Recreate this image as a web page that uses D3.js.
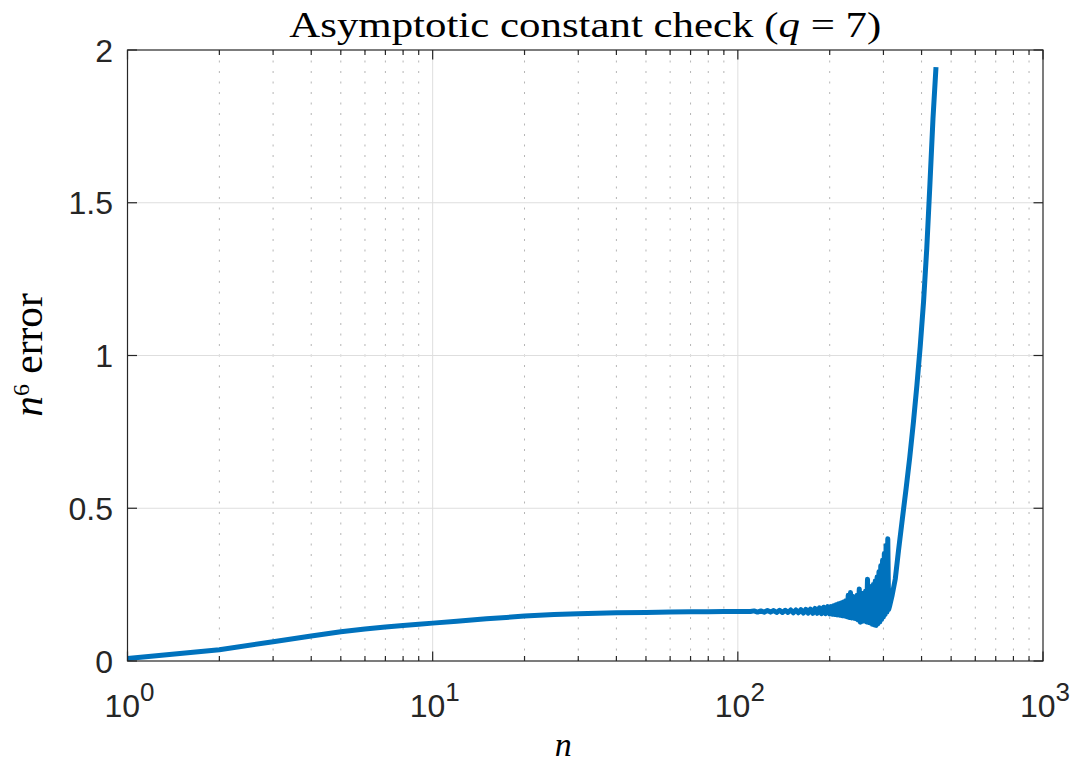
<!DOCTYPE html>
<html><head><meta charset="utf-8">
<script src="https://cdn.jsdelivr.net/npm/d3@7"></script>
<style>body{margin:0;background:#fff} svg{display:block}</style>
</head><body>
<svg id="c" width="1075" height="767"></svg>
<script>
// ---- data ----
const nValues = [
  1,2,3,4,5,6,7,8,9,10,12,15,20,25,30,40,50,60,70,80,90,100,110,
  113,116,119,122,125,128,131,134,137,140,143,146,149,152,155,158,161,164,167,170,
  173,176,179,182,185,188,191,194,197,
  200,202,204,206,208,210,212,214,216,218,220,222,224,226,228,230,
  232,234,236,238,240,242,244,246,248,250,252,254,256,258,260,262,264,266,268,270,
  272,274,276,278,280,282,284,286,288,290,292,294,296,298,300,302,304,306,308,310,312,314,
  320,328,336,346,356,366,376,386,396,406,416,426,436,446,454
];
const errValues = [
  0.008,0.037,0.063,0.082,0.096,0.105,0.111,0.116,0.120,0.124,0.130,0.138,0.147,0.152,0.155,0.158,0.159,0.160,0.161,0.161,0.162,0.162,0.162,
  0.164,0.160,0.164,0.160,0.165,0.160,0.165,0.159,0.166,0.159,0.166,0.159,0.167,0.158,0.167,0.158,0.168,0.157,0.169,0.157,
  0.170,0.156,0.172,0.156,0.174,0.155,0.176,0.155,0.178,
  0.154,0.178,0.153,0.181,0.152,0.184,0.151,0.187,0.150,0.190,0.148,0.193,0.147,0.197,0.145,
  0.215,0.142,0.224,0.141,0.212,0.140,0.208,0.138,0.215,0.134,0.236,0.127,0.220,0.130,0.222,0.132,0.228,0.128,0.268,0.126,
  0.245,0.124,0.240,0.120,0.250,0.118,0.262,0.116,0.275,0.122,0.292,0.128,0.312,0.136,0.330,0.144,0.352,0.152,0.378,0.160,0.400,0.168,
  0.178,0.213,0.268,0.360,0.465,0.565,0.668,0.780,0.900,1.030,1.175,1.350,1.560,1.775,1.944
];
const xTickValues = [1, 10, 100, 1000];
const xTickBase = "10";
const xTickExponents = ["0", "1", "2", "3"];
const yTickValues = [0, 0.5, 1, 1.5, 2];
const yTickLabels = ["0", "0.5", "1", "1.5", "2"];
const titleParts = ["Asymptotic constant check (", "q", " = 7)"];
const xLabelText = "n";
const yLabelParts = ["n", "6", " error"];

// ---- layout ----
const L = 127.5, R = 1043, T = 50, B = 661;
const ink = "#262626";
const svg = d3.select("#c");
const x = d3.scaleLog().domain([1, 1000]).range([L, R]);
const y = d3.scaleLinear().domain([0, 2]).range([B, T]);

const minorX = [];
[1, 10, 100].forEach(d => { for (let k = 2; k <= 9; k++) minorX.push(d * k); });

// grid
const g = svg.append("g");
g.selectAll(".mg").data(minorX).enter().append("line")
  .attr("x1", d => x(d)).attr("x2", d => x(d)).attr("y1", B).attr("y2", T)
  .attr("stroke", "#b5b5b5").attr("stroke-width", 1).attr("stroke-dasharray", "2,8.5");
g.selectAll(".xg").data(xTickValues.slice(1, -1)).enter().append("line")
  .attr("x1", d => x(d)).attr("x2", d => x(d)).attr("y1", B).attr("y2", T)
  .attr("stroke", "#dedede").attr("stroke-width", 1);
g.selectAll(".yg").data(yTickValues.slice(1, -1)).enter().append("line")
  .attr("x1", L).attr("x2", R).attr("y1", d => y(d)).attr("y2", d => y(d))
  .attr("stroke", "#dedede").attr("stroke-width", 1);

// data line
const pts = nValues.map((n, i) => [n, errValues[i]]);
svg.append("path").datum(pts)
  .attr("d", d3.line().x(d => x(d[0])).y(d => y(d[1])))
  .attr("fill", "none").attr("stroke", "#0072BD").attr("stroke-width", 5)
  .attr("stroke-linejoin", "round").attr("stroke-linecap", "butt");

// axes box and ticks
const ax = svg.append("g").attr("stroke", ink).attr("stroke-width", 1.2);
ax.append("rect").attr("x", L).attr("y", T).attr("width", R - L).attr("height", B - T).attr("fill", "none");
xTickValues.forEach(v => {
  ax.append("line").attr("x1", x(v)).attr("x2", x(v)).attr("y1", B).attr("y2", B - 9.5);
  ax.append("line").attr("x1", x(v)).attr("x2", x(v)).attr("y1", T).attr("y2", T + 9.5);
});
minorX.forEach(v => {
  ax.append("line").attr("x1", x(v)).attr("x2", x(v)).attr("y1", B).attr("y2", B - 5);
  ax.append("line").attr("x1", x(v)).attr("x2", x(v)).attr("y1", T).attr("y2", T + 5);
});
yTickValues.forEach(v => {
  ax.append("line").attr("x1", L).attr("x2", L + 9.5).attr("y1", y(v)).attr("y2", y(v));
  ax.append("line").attr("x1", R).attr("x2", R - 9.5).attr("y1", y(v)).attr("y2", y(v));
});

// tick labels
const sans = "'Liberation Sans', Arial, Helvetica, sans-serif";
yTickValues.forEach((v, i) => {
  svg.append("text").attr("x", 113).attr("y", y(v)).attr("dy", "0.36em")
    .attr("text-anchor", "end").attr("font-family", sans).attr("font-size", 32)
    .attr("fill", ink).text(yTickLabels[i]);
});
xTickValues.forEach((v, i) => {
  const t = svg.append("text").attr("x", x(v) + 2).attr("y", 717)
    .attr("text-anchor", "middle").attr("font-family", sans).attr("font-size", 32).attr("fill", ink);
  t.append("tspan").text(xTickBase);
  t.append("tspan").attr("dy", -16).attr("font-size", 26).text(xTickExponents[i]);
});

// title
const serif = "'Liberation Serif', 'DejaVu Serif', serif";
const title = svg.append("text").attr("x", (L + R) / 2).attr("y", 37)
  .attr("text-anchor", "middle").attr("font-family", serif).attr("font-size", 35).attr("fill", "#000")
  .attr("textLength", 592).attr("lengthAdjust", "spacingAndGlyphs");
title.append("tspan").text(titleParts[0]);
title.append("tspan").attr("font-style", "italic").text(titleParts[1]);
title.append("tspan").text(titleParts[2]);

// x label
svg.append("text").attr("x", (L + R) / 2 - 22).attr("y", 756)
  .attr("text-anchor", "middle").attr("font-family", serif).attr("font-style", "italic")
  .attr("font-size", 34).attr("fill", "#000").text(xLabelText);

// y label
const yl = svg.append("text").attr("transform", "translate(42,355) rotate(-90)")
  .attr("text-anchor", "middle").attr("font-family", serif).attr("font-size", 34).attr("fill", "#000");
yl.append("tspan").attr("font-style", "italic").text(yLabelParts[0]);
yl.append("tspan").attr("dy", -13).attr("font-size", 24).text(yLabelParts[1]);
yl.append("tspan").attr("dy", 13).text(yLabelParts[2]);
{
  const w = yl.node().getComputedTextLength();
  yl.attr("font-size", 34 * 126 / w);
}
</script>
</body></html>
